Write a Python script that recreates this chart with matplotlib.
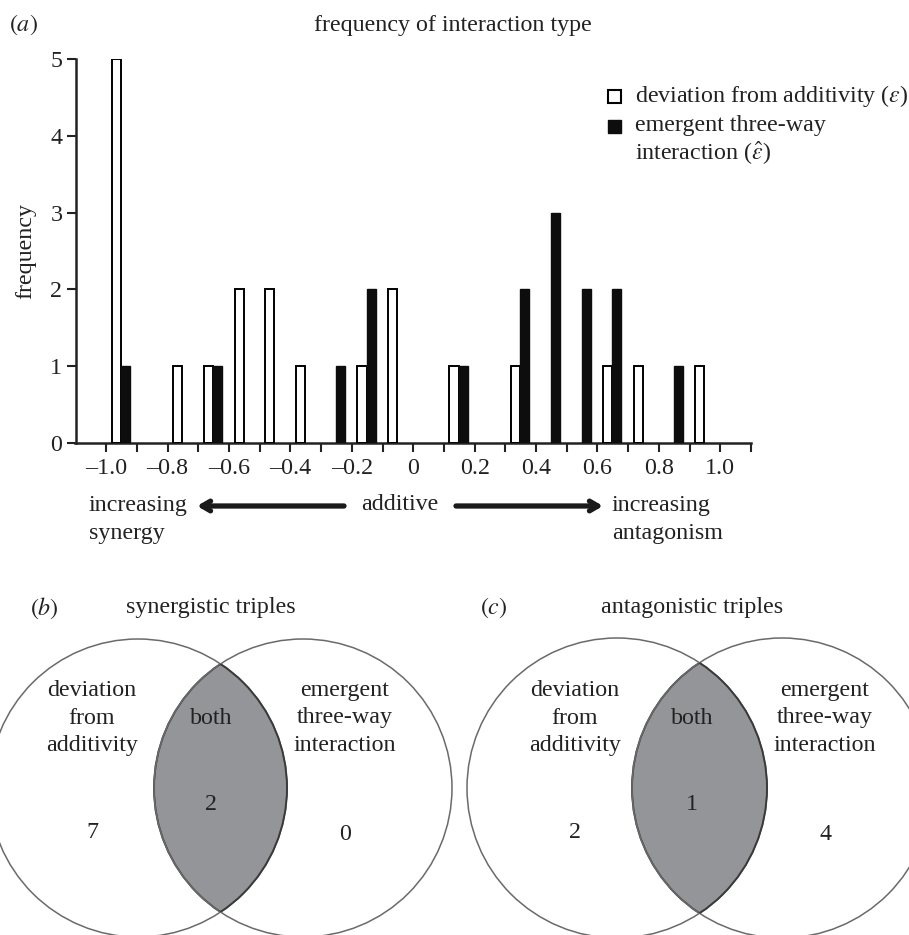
import numpy as np
import matplotlib
matplotlib.use("Agg")
import matplotlib.pyplot as plt
from matplotlib.patches import Circle, Rectangle

plt.rcParams['font.family'] = ['Liberation Serif', 'DejaVu Serif']
plt.rcParams['mathtext.fontset'] = 'stix'

# ---------------- data ----------------
bin_starts = [-1.0, -0.9, -0.8, -0.7, -0.6, -0.5, -0.4, -0.3, -0.2, -0.1,
              0.0, 0.1, 0.2, 0.3, 0.4, 0.5, 0.6, 0.7, 0.8, 0.9]
deviation_counts = [5, 0, 1, 1, 2, 2, 1, 0, 1, 2,
                    0, 1, 0, 1, 0, 0, 1, 1, 0, 1]
emergent_counts = [1, 0, 0, 1, 0, 0, 0, 1, 2, 0,
                   0, 1, 0, 2, 3, 2, 2, 0, 1, 0]
xtick_values = [-1.0, -0.8, -0.6, -0.4, -0.2, 0.0, 0.2, 0.4, 0.6, 0.8, 1.0]
xtick_labels = ['\u20131.0', '\u20130.8', '\u20130.6', '\u20130.4', '\u20130.2',
                '0', '0.2', '0.4', '0.6', '0.8', '1.0']
minor_ticks = [-1.0, -0.9, -0.8, -0.7, -0.6, -0.5, -0.4, -0.3, -0.2, -0.1,
               0.0, 0.1, 0.2, 0.3, 0.4, 0.5, 0.6, 0.7, 0.8, 0.9, 1.0, 1.1]
ytick_values = [0, 1, 2, 3, 4, 5]

venn_labels = ['deviation\nfrom\nadditivity', 'both', 'emergent\nthree-way\ninteraction']
synergistic_counts = [7, 2, 0]
antagonistic_counts = [2, 1, 4]

# ---------------- figure ----------------
W, H = 909, 935
fig = plt.figure(figsize=(W / 100, H / 100), dpi=100)

FS = 17.3
tc = '#222222'

# histogram axes (pixel layout -> figure fraction)
left_px, right_px, top_px, bottom_px = 75.5, 751.0, 59.0, 443.0
ax = fig.add_axes([left_px / W, 1 - bottom_px / H,
                   (right_px - left_px) / W, (bottom_px - top_px) / H])

bs = np.array(bin_starts)
dev = np.array(deviation_counts)
eme = np.array(emergent_counts)
mw = dev > 0
me = eme > 0
ax.bar(bs[mw] + 0.033, dev[mw], width=0.03, color='white',
       edgecolor='black', linewidth=1.4, zorder=3)
ax.bar(bs[me] + 0.063, eme[me], width=0.03, color='#0d0d0d',
       edgecolor='#0d0d0d', linewidth=1.0, zorder=3)

ax.set_xlim(-1.1, 1.1)
ax.set_ylim(0, 5)
ax.set_xticks(xtick_values, minor=False)
ax.set_xticks(minor_ticks, minor=True)
ax.set_xticklabels(xtick_labels, fontsize=FS)
ax.set_yticks(ytick_values)
ax.set_yticklabels([str(v) for v in ytick_values], fontsize=FS)
ax.tick_params(axis='x', which='both', direction='out', length=6.5, width=1.5,
               pad=4, colors=tc, labelcolor=tc)
ax.tick_params(axis='y', direction='out', length=6.5, width=1.5, pad=3,
               colors=tc, labelcolor=tc)
for s in ['top', 'right']:
    ax.spines[s].set_visible(False)
for s in ['left', 'bottom']:
    ax.spines[s].set_linewidth(1.8)
    ax.spines[s].set_color(tc)
ax.set_ylabel('frequency', fontsize=FS, color=tc, labelpad=10)
ax.patch.set_visible(False)

# overlay axes in pixel coordinates (y downward)
ov = fig.add_axes([0, 0, 1, 1])
ov.set_xlim(0, W)
ov.set_ylim(H, 0)
ov.axis('off')
ov.patch.set_visible(False)

ov.text(9, 25, r'$(\mathit{a})$', fontsize=FS, ha='left', va='center', color=tc)
ov.text(453, 25, 'frequency of interaction type', fontsize=FS, ha='center',
        va='center', color=tc)

# legend
ov.add_patch(Rectangle((608, 90), 13, 13, facecolor='white', edgecolor='black', lw=1.5))
ov.add_patch(Rectangle((608, 120), 13, 13, facecolor='#0d0d0d', edgecolor='#0d0d0d', lw=1.0))
ov.text(635, 96, r'deviation from additivity ($\varepsilon$)', fontsize=FS,
        ha='left', va='center', color=tc)
ov.text(635, 126, 'emergent three-way', fontsize=FS, ha='left', va='center', color=tc)
ov.text(635, 153, r'interaction ($\hat{\varepsilon}$)', fontsize=FS, ha='left',
        va='center', color=tc)

# direction annotations
ov.text(89, 505, 'increasing', fontsize=FS, ha='left', va='center', color=tc)
ov.text(89, 533, 'synergy', fontsize=FS, ha='left', va='center', color=tc)
ov.text(400, 505, 'additive', fontsize=FS, ha='center', va='center', color=tc)
ov.text(612, 505, 'increasing', fontsize=FS, ha='left', va='center', color=tc)
ov.text(612, 533, 'antagonism', fontsize=FS, ha='left', va='center', color=tc)
ov.annotate('', xy=(197, 506), xytext=(344, 506),
            arrowprops=dict(arrowstyle='->,head_length=0.6,head_width=0.35',
                            lw=3.8, color='#1a1a1a', shrinkA=0, shrinkB=0))
ov.annotate('', xy=(603, 506), xytext=(456, 506),
            arrowprops=dict(arrowstyle='->,head_length=0.6,head_width=0.35',
                            lw=3.8, color='#1a1a1a', shrinkA=0, shrinkB=0))


def venn(cx_left, cx_right, cy, r, counts, letter, title, title_x, letter_x,
         lx, mx, rx):
    c1 = Circle((cx_left, cy), r, facecolor='none', edgecolor='#6a6a6a', lw=1.1, zorder=2)
    c2 = Circle((cx_right, cy), r, facecolor='none', edgecolor='#6a6a6a', lw=1.1, zorder=2)
    ov.add_patch(c1)
    ov.add_patch(c2)
    clip = Circle((cx_left, cy), r, transform=ov.transData)
    lens = Circle((cx_right, cy), r, facecolor='#939598', edgecolor='#3a3a3a',
                  lw=1.4, zorder=1)
    ov.add_patch(lens)
    lens.set_clip_path(clip)
    clip2 = Circle((cx_right, cy), r, transform=ov.transData)
    lens_edge = Circle((cx_left, cy), r, facecolor='none', edgecolor='#3a3a3a',
                       lw=1.4, zorder=3)
    ov.add_patch(lens_edge)
    lens_edge.set_clip_path(clip2)

    ov.text(lx, 718, venn_labels[0], fontsize=FS, ha='center', va='center',
            color=tc, linespacing=1.4, zorder=4)
    ov.text(mx, 718, venn_labels[1], fontsize=FS, ha='center', va='center',
            color=tc, zorder=4)
    ov.text(rx, 718, venn_labels[2], fontsize=FS, ha='center', va='center',
            color=tc, linespacing=1.4, zorder=4)
    ov.text(lx, 832, str(counts[0]), fontsize=FS, ha='center', va='center', color=tc, zorder=4)
    ov.text(mx, 805, str(counts[1]), fontsize=FS, ha='center', va='center', color=tc, zorder=4)
    ov.text(rx, 834, str(counts[2]), fontsize=FS, ha='center', va='center', color=tc, zorder=4)
    ov.text(letter_x, 608, r'$(\mathit{' + letter + '})$', fontsize=FS, ha='left',
            va='center', color=tc)
    ov.text(title_x, 608, title, fontsize=FS, ha='center', va='center', color=tc)


venn(138, 303, 788, 149, synergistic_counts, 'b', 'synergistic triples', 211, 30,
     92, 211, 345)
venn(617, 782, 788, 150, antagonistic_counts, 'c', 'antagonistic triples', 692, 480,
     575, 692, 825)

fig.savefig('out.png', dpi=100)
